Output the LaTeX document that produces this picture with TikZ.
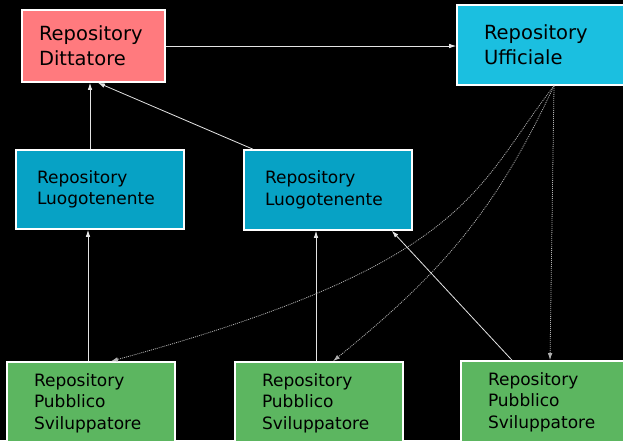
\documentclass[tikz,border=0pt]{standalone}
\usepackage{fontspec}
\setmainfont{DejaVu Sans}
\usetikzlibrary{positioning,arrows.meta}
\definecolor{rossochiaro}{RGB}{255,122,126}
\definecolor{azzurrochiaro}{RGB}{27,191,224}
\definecolor{blumedio}{RGB}{7,162,197}
\definecolor{verdemedio}{RGB}{92,182,96}
\definecolor{linea}{RGB}{228,228,228}
\definecolor{punti}{RGB}{175,175,175}
\tikzset{
  repo/.style={rectangle, draw=white, line width=1.6pt, align=left, text=black},
  grande/.style={font=\fontsize{19.5}{25}\selectfont},
  piccolo/.style={font=\fontsize{17}{21.5}\selectfont},
  rosso/.style={fill=rossochiaro},
  azzurro/.style={fill=azzurrochiaro},
  blu/.style={fill=blumedio, text width=126pt, inner xsep=21pt},
  verde/.style={fill=verdemedio, text width=114pt, inner xsep=27pt, minimum height=82pt},
  fwd/.style={draw=linea, line width=0.8pt, -{Latex[length=7pt,width=4.5pt]}},
  pull/.style={draw=punti, line width=0.8pt, dash pattern=on 1pt off 1pt,
               -{Latex[length=7pt,width=4.5pt]}},
}

\begin{document}
\begin{tikzpicture}[x=1pt, y=-1pt]
  \fill[black] (0,0) rectangle (623,440);
  \useasboundingbox (0,0) rectangle (623,440);

  \node[repo, rosso, grande, text width=109pt, inner xsep=17pt, minimum height=72pt] (dittatore) at (93.5,46) {Repository\\Dittatore};
  \node[repo, azzurro, grande, text width=140pt, inner xsep=27pt, minimum height=80pt] (ufficiale) at (554,45) {Repository\\Ufficiale};
  \node[repo, blu, piccolo, minimum height=79pt] (luogo1) at (100,189.5) {Repository\\Luogotenente};
  \node[repo, blu, piccolo, minimum height=80pt] (luogo2) at (328,190) {Repository\\Luogotenente};
  \node[repo, verde, piccolo] (svil1) at (91,403) {Repository\\Pubblico\\Sviluppatore};
  \node[repo, verde, piccolo] (svil2) at (319,403) {Repository\\Pubblico\\Sviluppatore};
  \node[repo, verde, piccolo] (svil3) at (545,402) {Repository\\Pubblico\\Sviluppatore};

  % pushes towards the official repository
  \draw[fwd] (dittatore.east) -- (dittatore.east -| ufficiale.west);
  \draw[fwd] ([xshift=-10pt]luogo1.north) -- ([xshift=-10pt]luogo1.north |- dittatore.south);
  \draw[fwd] ([xshift=-75pt]luogo2.north) -- ([xshift=4.5pt]dittatore.south);
  \draw[fwd] ([xshift=-3pt]svil1.north) -- ([xshift=-3pt]svil1.north |- luogo1.south);
  \draw[fwd] ([xshift=-3pt]svil2.north) -- ([xshift=-3pt]svil2.north |- luogo2.south);
  \draw[fwd] ([xshift=-33pt]svil3.north) -- ([xshift=-21pt]luogo2.south east);

  % pulls from the official repository
  \draw[pull] (ufficiale.south) .. controls (474,189) and (471,263) .. ([xshift=20pt]svil1.north);
  \draw[pull] (ufficiale.south) .. controls (494,214) and (440,274) .. ([xshift=14pt]svil2.north);
  \draw[pull] (ufficiale.south) -- ([xshift=5pt]svil3.north);
\end{tikzpicture}
\end{document}
